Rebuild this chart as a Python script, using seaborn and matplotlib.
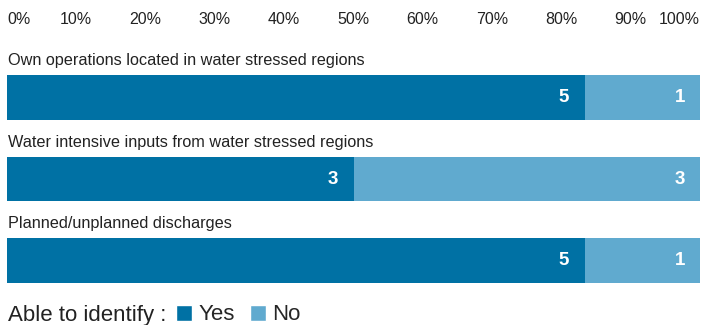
import matplotlib
matplotlib.use("Agg")
import matplotlib.pyplot as plt
import seaborn as sns
import pandas as pd
from matplotlib.patches import Patch

categories = ["Own operations located in water stressed regions",
              "Water intensive inputs from water stressed regions",
              "Planned/unplanned discharges"]
yes_counts = [5, 3, 5]
no_counts = [1, 3, 1]
tick_vals = [0, 0.1, 0.2, 0.3, 0.4, 0.5, 0.6, 0.7, 0.8, 0.9, 1.0]
tick_labels = ["0%", "10%", "20%", "30%", "40%", "50%", "60%", "70%", "80%", "90%", "100%"]

DARK = "#0071A4"
LIGHT = "#60AACF"

sns.set_theme(style="white")
plt.rcParams["font.family"] = ["Liberation Sans", "DejaVu Sans"]

totals = [y + n for y, n in zip(yes_counts, no_counts)]
df = pd.DataFrame({
    "cat": categories,
    "yes_share": [y / t for y, t in zip(yes_counts, totals)],
    "total_share": [1.0 for _ in totals],
})

W, H = 704, 325
fig = plt.figure(figsize=(W / 100, H / 100), dpi=100)
top_px, bot_px = 40, 290
ax = fig.add_axes([7 / W, 1 - bot_px / H, (700 - 7) / W, (bot_px - top_px) / H])

sns.barplot(data=df, y="cat", x="total_share", color=LIGHT, orient="h",
            width=0.55, ax=ax, saturation=1, linewidth=0)
sns.barplot(data=df, y="cat", x="yes_share", color=DARK, orient="h",
            width=0.55, ax=ax, saturation=1, linewidth=0)

ax.set_xlim(0, 1)
spacing = 81.5
ax.set_ylim((bot_px - 97.5) / spacing, -(97.5 - top_px) / spacing)
ax.set_xlabel("")
ax.set_ylabel("")
ax.set_yticks([])
for s in ax.spines.values():
    s.set_visible(False)

ax.xaxis.tick_top()
ax.set_xticks(tick_vals)
ax.set_xticklabels(tick_labels, fontsize=11.5, color="#222222")
ax.tick_params(axis="x", length=0, pad=9)
lbls = ax.get_xticklabels()
lbls[0].set_ha("left")
lbls[-1].set_ha("right")

for i, cat in enumerate(categories):
    ax.text(0.002, i - 0.45, cat, ha="left", va="center", fontsize=11.7, color="#222222")
    ys = df["yes_share"][i]
    ax.text(ys - 0.022, i, str(yes_counts[i]), ha="right", va="center",
            fontsize=13.5, fontweight="bold", color="white")
    ax.text(1 - 0.022, i, str(no_counts[i]), ha="right", va="center",
            fontsize=13.5, fontweight="bold", color="white")

fig.text(8 / W, 1 - 315 / H, "Able to identify :", ha="left", va="center",
         fontsize=16, color="#222222")
handles = [Patch(facecolor=DARK, label="Yes"), Patch(facecolor=LIGHT, label="No")]
fig.legend(handles=handles, loc="center left", bbox_to_anchor=(176 / W, 1 - 315 / H),
           ncol=2, frameon=False, fontsize=16, handlelength=0.7, handleheight=0.7,
           handletextpad=0.3, columnspacing=0.7, borderpad=0, borderaxespad=0)

fig.savefig("out.png", dpi=100)
